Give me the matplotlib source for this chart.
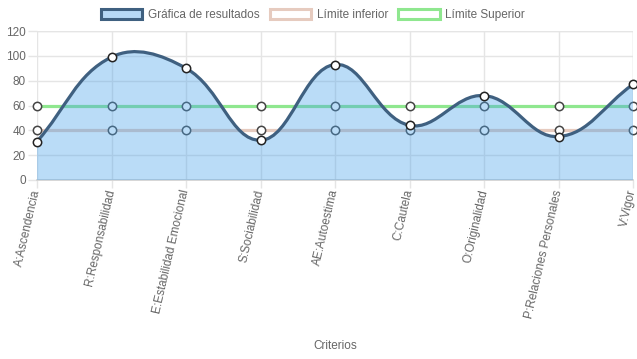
import matplotlib
matplotlib.use("Agg")
import matplotlib.pyplot as plt
import numpy as np
from matplotlib.path import Path
from matplotlib.patches import PathPatch, Patch

plt.rcParams["font.family"] = ["Liberation Sans", "DejaVu Sans"]

# data
categories = ["A:Ascendencia", "R:Responsabilidad", "E:Estabilidad Emocional",
              "S:Sociabilidad", "AE:Autoestima", "C:Cautela", "O:Originalidad",
              "P:Relaciones Personales", "V:Vigor"]
resultados = [31, 99, 90, 32, 93, 44, 68, 35, 77]
limite_inferior = [40, 40, 40, 40, 40, 40, 40, 40, 40]
limite_superior = [60, 60, 60, 60, 60, 60, 60, 60, 60]
y_ticks = [0, 20, 40, 60, 80, 100, 120]

W, H = 637, 359
fig = plt.figure(figsize=(W / 100, H / 100), dpi=100)
ax = fig.add_axes([37 / W, 179 / H, 596 / W, 149 / H])
ax.set_xlim(0, len(categories) - 1)
ax.set_ylim(0, 120)

grid_c = "#e5e5e5"
x = np.arange(len(categories))

for v, c in [(limite_inferior, "#e6cbbf"), (limite_superior, "#8fe78f")]:
    ax.plot(x, v, color=c, lw=2.3, zorder=2, solid_capstyle="butt")
    ax.plot(x, v, ls="none", marker="o", ms=6, mfc="white", mec="#444444",
            mew=1.1, zorder=2.5, clip_on=False)


def spline(xs, ys, t=0.4):
    # Chart.js style cubic bezier, control points computed in pixel space
    kx, ky = 596 / (len(xs) - 1), 149 / 120
    px, py = np.asarray(xs) * kx, np.asarray(ys, dtype=float) * ky
    n = len(px)
    cps = []
    for i in range(n):
        p0 = (px[max(i - 1, 0)], py[max(i - 1, 0)])
        p2 = (px[min(i + 1, n - 1)], py[min(i + 1, n - 1)])
        d01 = np.hypot(px[i] - p0[0], py[i] - p0[1])
        d12 = np.hypot(p2[0] - px[i], p2[1] - py[i])
        s = d01 + d12
        s01 = d01 / s if s else 0
        s12 = d12 / s if s else 0
        fa, fb = t * s01, t * s12
        prev = (px[i] - fa * (p2[0] - p0[0]), py[i] - fa * (p2[1] - p0[1]))
        nxt = (px[i] + fb * (p2[0] - p0[0]), py[i] + fb * (p2[1] - p0[1]))
        cps.append((prev, nxt))
    verts = [(px[0] / kx, py[0] / ky)]
    codes = [Path.MOVETO]
    for i in range(n - 1):
        a = cps[i][1]
        b = cps[i + 1][0]
        verts += [(a[0] / kx, min(max(a[1] / ky, 0), 120)),
                  (b[0] / kx, min(max(b[1] / ky, 0), 120)),
                  (px[i + 1] / kx, py[i + 1] / ky)]
        codes += [Path.CURVE4] * 3
    return verts, codes


verts, codes = spline(x, resultados)
fill_path = Path(verts + [(x[-1], 0), (x[0], 0), (x[0], 0)],
                 codes + [Path.LINETO, Path.LINETO, Path.CLOSEPOLY])
ax.add_patch(PathPatch(fill_path, facecolor="#4aa3ea", alpha=0.38, lw=0, zorder=3))
ax.add_patch(PathPatch(Path(verts, codes), facecolor="none", edgecolor="#3f6080",
                       lw=2.3, zorder=4))
ax.plot(x, resultados, ls="none", marker="o", ms=6, mfc="white", mec="#222222",
        mew=1.1, zorder=5, clip_on=False)

ax.set_xticks(x)
ax.set_xticklabels(categories, rotation=77, rotation_mode="anchor",
                   ha="right", va="center", fontsize=8.5, color="#666666")
ax.set_yticks(y_ticks)
ax.set_yticklabels([str(v) for v in y_ticks], fontsize=8.5, color="#666666")
ax.tick_params(axis="y", length=6.5, width=1, color=grid_c, pad=1.5)
ax.tick_params(axis="x", length=6, width=1, color=grid_c, pad=1)
ax.grid(True, color=grid_c, lw=1, zorder=0)
ax.set_axisbelow(True)
for s in ["top", "right", "left"]:
    ax.spines[s].set_visible(False)
ax.spines["bottom"].set_color("#d0d0d0")
ax.spines["bottom"].set_linewidth(1.2)
ax.axvline(x[-1], color=grid_c, lw=1, zorder=0)
ax.axhline(120, color=grid_c, lw=1, zorder=0)

fig.text(335 / W, 1 - 346 / H, "Criterios", ha="center", va="center",
         fontsize=8.5, color="#666666")

handles = [
    Patch(facecolor="#b6d8f5", edgecolor="#3f6080", lw=2.2, label="Gráfica de resultados"),
    Patch(facecolor="white", edgecolor="#e6cbbf", lw=2.2, label="Límite inferior"),
    Patch(facecolor="white", edgecolor="#8fe78f", lw=2.2, label="Límite Superior"),
]
fig.legend(handles=handles, loc="center", bbox_to_anchor=(313 / W, 1 - 15 / H),
           ncol=3, frameon=False, fontsize=8.5, handlelength=3.5, handleheight=0.9,
           handletextpad=0.5, columnspacing=0.85, labelcolor="#666666")

fig.savefig("out.png", dpi=100)
